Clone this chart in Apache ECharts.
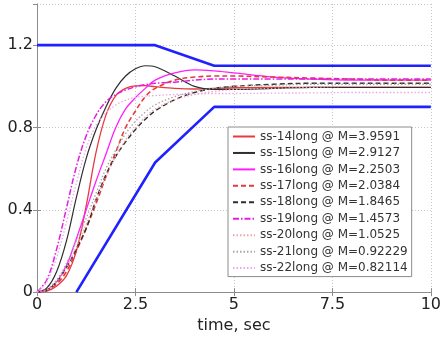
<!DOCTYPE html>
<html>
<head>
<meta charset="utf-8">
<script src="https://cdn.jsdelivr.net/npm/echarts@6/dist/echarts.min.js"></script>
<style>
  html, body { margin: 0; padding: 0; background: #fff; }
  #chart { width: 444px; height: 339px; }
</style>
</head>
<body>
<div id="chart"></div>
<script>
// Sample times (s) shared by all step responses
const times = [0, 0.25, 0.5, 0.75, 1, 1.25, 1.5, 1.75, 2, 2.25, 2.5, 2.75, 3, 3.5, 4, 4.5, 5, 6, 7, 8, 9, 10];

// Step responses of each design
const ss14 = [0, 0.005, 0.03, 0.08, 0.2, 0.42, 0.68, 0.86, 0.955, 0.99, 1.002, 1.003, 0.998, 0.99, 0.987, 0.99, 0.993, 0.995, 0.995, 0.995, 0.995, 0.995];
const ss15 = [0, 0.02, 0.1, 0.25, 0.46, 0.65, 0.79, 0.9, 0.99, 1.05, 1.085, 1.1, 1.095, 1.05, 1.0, 0.985, 0.985, 0.99, 0.995, 0.995, 0.995, 0.995];
const ss16 = [0, 0.01, 0.05, 0.13, 0.26, 0.4, 0.54, 0.67, 0.8, 0.89, 0.945, 0.99, 1.03, 1.065, 1.08, 1.075, 1.065, 1.045, 1.035, 1.03, 1.03, 1.03];
const ss17 = [0, 0.01, 0.04, 0.1, 0.2, 0.31, 0.43, 0.56, 0.68, 0.8, 0.88, 0.95, 0.99, 1.03, 1.045, 1.05, 1.05, 1.045, 1.04, 1.035, 1.03, 1.03];
const ss18 = [0, 0.01, 0.05, 0.12, 0.21, 0.31, 0.45, 0.57, 0.66, 0.73, 0.79, 0.84, 0.88, 0.935, 0.97, 0.99, 1.0, 1.01, 1.015, 1.015, 1.015, 1.015];
const ss19 = [0, 0.06, 0.21, 0.41, 0.61, 0.76, 0.86, 0.925, 0.96, 0.982, 0.998, 1.008, 1.015, 1.02, 1.03, 1.035, 1.035, 1.035, 1.035, 1.035, 1.035, 1.035];
const ss20 = [0, 0.01, 0.05, 0.12, 0.22, 0.33, 0.45, 0.56, 0.66, 0.74, 0.8, 0.85, 0.89, 0.935, 0.96, 0.975, 0.985, 0.99, 0.995, 1.0, 1.0, 1.0];
const ss21 = [0, 0.015, 0.06, 0.14, 0.25, 0.36, 0.48, 0.6, 0.69, 0.77, 0.83, 0.875, 0.91, 0.95, 0.975, 0.99, 1.0, 1.005, 1.01, 1.01, 1.01, 1.01];
const ss22 = [0, 0.05, 0.17, 0.34, 0.53, 0.7, 0.81, 0.87, 0.91, 0.932, 0.947, 0.952, 0.955, 0.96, 0.962, 0.965, 0.965, 0.967, 0.968, 0.97, 0.97, 0.97];

// Performance envelope (time, value) corners
const upperBoundT = [0, 3, 4.5, 10];
const upperBoundY = [1.2, 1.2, 1.1, 1.1];
const lowerBoundT = [1, 3, 4.5, 10];
const lowerBoundY = [0, 0.63, 0.9, 0.9];

// Legend labels
const names = [
  'ss-14long @ M=3.9591',
  'ss-15long @ M=2.9127',
  'ss-16long @ M=2.2503',
  'ss-17long @ M=2.0384',
  'ss-18long @ M=1.8465',
  'ss-19long @ M=1.4573',
  'ss-20long @ M=1.0525',
  'ss-21long @ M=0.92229',
  'ss-22long @ M=0.82114'
];

// Axis ticks
const xTicks = { min: 0, max: 10, interval: 2.5 };
const yTicks = { min: 0, max: 1.4, interval: 0.4 };

const FONT = 'DejaVu Sans';
const RED = '#e8393f', BLACK = '#2e2e2e', MAGENTA = '#ff1eff';
const DASH = [5, 3], DASHDOT = [6, 2, 1.5, 2], DOT = [1.5, 2];

const styles = [
  { color: RED, type: 'solid', width: 1.3 },
  { color: BLACK, type: 'solid', width: 1.2 },
  { color: MAGENTA, type: 'solid', width: 1.3 },
  { color: RED, type: DASH, width: 1.6 },
  { color: BLACK, type: DASH, width: 1.4 },
  { color: '#e21ee2', type: DASHDOT, width: 1.5 },
  { color: '#f2a2aa', type: DOT, width: 1.3 },
  { color: '#a5a5a5', type: DOT, width: 1.3 },
  { color: '#eaa8ea', type: DOT, width: 1.3 }
];
const responses = [ss14, ss15, ss16, ss17, ss18, ss19, ss20, ss21, ss22];

const pair = (xs, ys) => xs.map((x, i) => [x, ys[i]]);

const boundStyle = { color: '#1f22ff', width: 2.6 };
const series = [
  { name: 'upper', type: 'line', data: pair(upperBoundT, upperBoundY), symbol: 'none',
    lineStyle: boundStyle, itemStyle: { color: boundStyle.color }, z: 1, silent: true },
  { name: 'lower', type: 'line', data: pair(lowerBoundT, lowerBoundY), symbol: 'none',
    lineStyle: boundStyle, itemStyle: { color: boundStyle.color }, z: 1, silent: true }
];
responses.forEach((vals, i) => {
  series.push({
    name: names[i],
    type: 'line',
    data: pair(times, vals),
    smooth: 0.35,
    symbol: 'none',
    lineStyle: styles[i],
    itemStyle: { color: styles[i].color },
    z: 2
  });
});

const axisLineStyle = { color: '#8c8c8c', width: 1 };
const gridLine = { show: true, lineStyle: { type: [1, 2], color: '#c8c8c8', width: 1 } };

const chart = echarts.init(document.getElementById('chart'), null, { renderer: 'canvas' });
chart.setOption({
  animation: false,
  backgroundColor: '#fff',
  grid: { left: 37, right: 13, top: 4, bottom: 44, containLabel: false },
  legend: {
    data: names,
    orient: 'vertical',
    left: 228,
    top: 127,
    padding: [3, 4, 2, 4],
    itemWidth: 22,
    itemHeight: 10,
    itemGap: 3.45,
    backgroundColor: '#fff',
    borderColor: '#8c8c8c',
    borderWidth: 1,
    borderRadius: 0,
    itemStyle: { opacity: 0 },
    textStyle: { fontFamily: FONT, fontSize: 12, lineHeight: 13, color: '#333' }
  },
  xAxis: [
    {
      type: 'value', position: 'bottom', ...xTicks,
      axisLine: { show: true, lineStyle: axisLineStyle },
      axisTick: { show: true, inside: true, length: 4, lineStyle: axisLineStyle },
      splitLine: gridLine,
      axisLabel: { fontFamily: FONT, fontSize: 16, color: '#222', margin: 5 },
      name: 'time, sec', nameLocation: 'middle', nameGap: 20,
      nameTextStyle: { fontFamily: FONT, fontSize: 16, color: '#222' }
    },
    {
      type: 'value', position: 'top', ...xTicks,
      axisLine: { show: true, lineStyle: axisLineStyle },
      axisTick: { show: true, inside: true, length: 4, lineStyle: axisLineStyle },
      splitLine: { show: false }, axisLabel: { show: false }
    }
  ],
  yAxis: [
    {
      type: 'value', position: 'left', ...yTicks,
      axisLine: { show: true, lineStyle: axisLineStyle },
      axisTick: { show: true, inside: true, length: 4, lineStyle: axisLineStyle },
      splitLine: gridLine,
      axisLabel: { fontFamily: FONT, fontSize: 16, color: '#222', margin: 4, showMaxLabel: false }
    },
    {
      type: 'value', position: 'right', ...yTicks,
      axisLine: { show: true, lineStyle: axisLineStyle },
      axisTick: { show: true, inside: true, length: 4, lineStyle: axisLineStyle },
      splitLine: { show: false }, axisLabel: { show: false }
    }
  ],
  series: series
});
</script>
</body>
</html>
